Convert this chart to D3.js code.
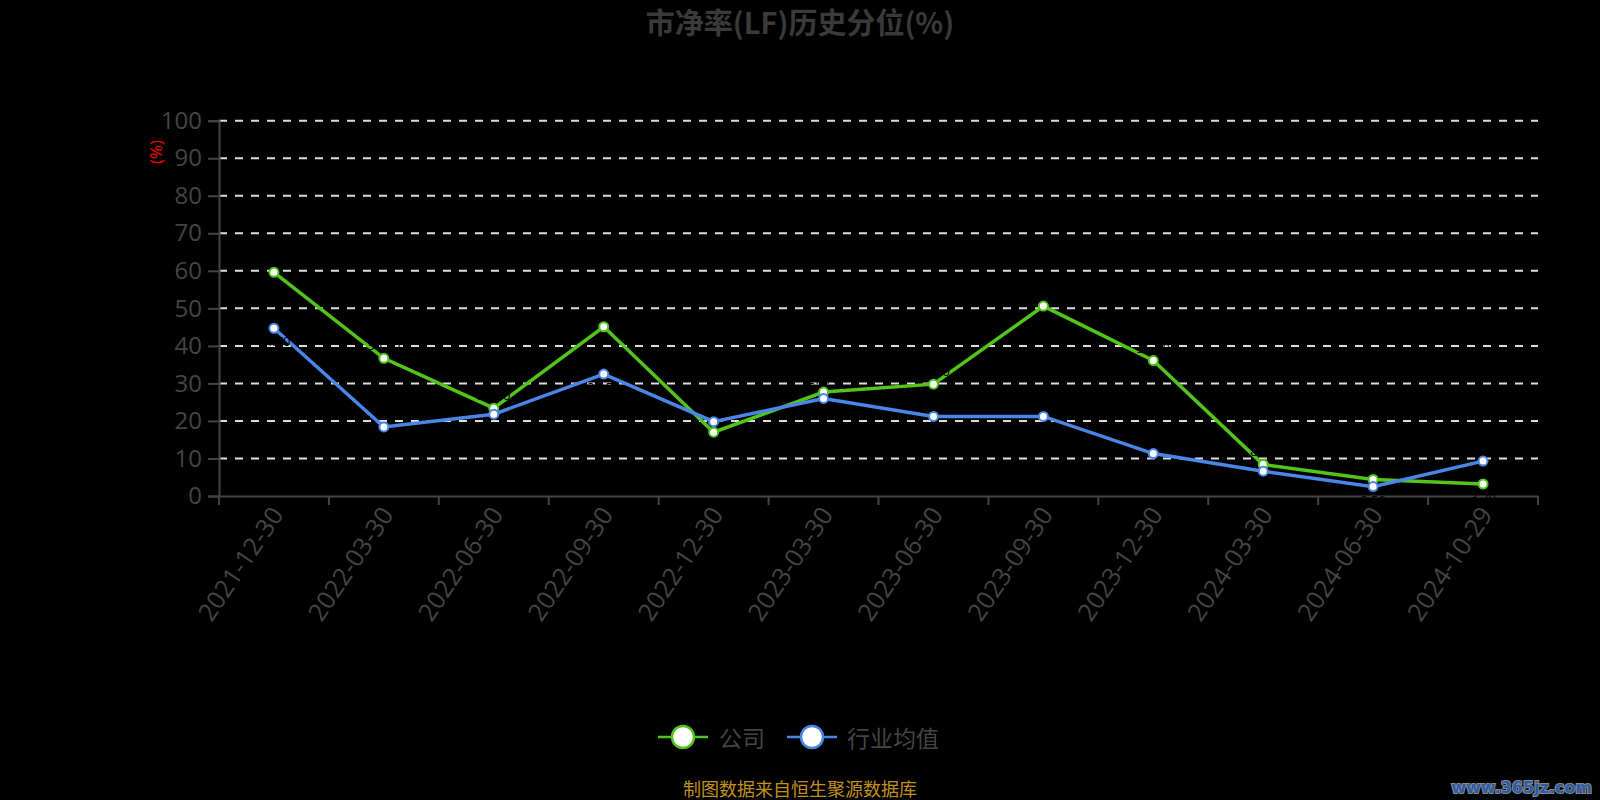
<!DOCTYPE html>
<html>
<head>
<meta charset="utf-8">
<script src="https://cdn.jsdelivr.net/npm/d3@7/dist/d3.min.js"></script>
<style>
  html, body { margin: 0; padding: 0; background: #000; }
  svg { display: block; }
</style>
</head>
<body>
<svg id="chart" width="1600" height="800"></svg>
<script>
const categories = ["2021-12-30","2022-03-30","2022-06-30","2022-09-30","2022-12-30","2023-03-30","2023-06-30","2023-09-30","2023-12-30","2024-03-30","2024-06-30","2024-10-29"];
const companyValues = [59.6, 36.7, 23.4, 45.1, 17.0, 27.7, 29.8, 50.6, 36.1, 8.4, 4.4, 3.2];
const industryValues = [44.7, 18.4, 21.8, 32.5, 19.8, 26.0, 21.2, 21.2, 11.3, 6.6, 2.5, 9.3];
const yTicks = [0, 10, 20, 30, 40, 50, 60, 70, 80, 90, 100];
const seriesNames = ["公司", "行业均值"];

(function () {
const FONT = "'Open Sans', 'Noto Sans CJK SC', sans-serif";
const CJK = "'Noto Sans CJK SC', 'Open Sans', sans-serif";
const colors = ["#52c41a", "#4a86e8"];
const textGray = "#444";

const svg = d3.select("#chart");
const pLeft = 219, pRight = 1538, pTop = 120.7, pBottom = 496;

const x = d3.scaleBand().domain(categories).range([pLeft, pRight]);
const y = d3.scaleLinear().domain([0, 100]).range([pBottom, pTop]);

// title
svg.append("text").attr("x", 800).attr("y", 34).attr("text-anchor", "middle")
  .attr("font-family", CJK).attr("font-weight", "bold").attr("font-size", 29)
  .attr("fill", "#3a3a3a").text("市净率(LF)历史分位(%)");

// grid lines
svg.append("g").selectAll("line").data(yTicks.filter(d => d > 0)).join("line")
  .attr("x1", pLeft).attr("x2", pRight)
  .attr("y1", d => y(d)).attr("y2", d => y(d))
  .attr("stroke", "#dddddd").attr("stroke-width", 2).attr("stroke-dasharray", "8,8");

// y axis
const yAxis = svg.append("g").attr("transform", `translate(${pLeft},0)`)
  .call(d3.axisLeft(y).tickValues(yTicks).tickSize(11).tickPadding(6));
yAxis.select(".domain").attr("stroke", "#444").attr("stroke-width", 2);
yAxis.selectAll(".tick line").attr("stroke", "#444").attr("stroke-width", 2);
yAxis.selectAll(".tick text").attr("fill", textGray).attr("font-size", 24).attr("font-family", FONT);

// y axis unit label
svg.append("text").attr("transform", "translate(157,152) rotate(-90)")
  .attr("text-anchor", "middle").attr("dominant-baseline", "middle")
  .attr("font-family", FONT).attr("font-size", 17).attr("fill", "#ff0000").text("(%)");

// x axis
const xAxis = svg.append("g").attr("transform", `translate(0,${pBottom})`)
  .call(d3.axisBottom(x).tickSize(0).tickFormat(""));
xAxis.select(".domain").attr("stroke", "#444").attr("stroke-width", 2);
const bounds = categories.map(c => x(c)).concat([pRight]);
svg.append("g").selectAll("line").data(bounds).join("line")
  .attr("x1", d => d).attr("x2", d => d).attr("y1", pBottom).attr("y2", pBottom + 9)
  .attr("stroke", "#444").attr("stroke-width", 2);
svg.append("g").selectAll("text").data(categories).join("text")
  .attr("transform", d => `translate(${x(d) + x.bandwidth() / 2 + 5},${pBottom + 15}) rotate(-56)`)
  .attr("text-anchor", "end").attr("dominant-baseline", "middle")
  .attr("font-family", FONT).attr("font-size", 25).attr("fill", textGray).text(d => d);

// series
const cx = d => x(d) + x.bandwidth() / 2;
const allSeries = [companyValues, industryValues];
allSeries.forEach((vals, i) => {
  const pts = categories.map((c, j) => [cx(c), y(vals[j]), vals[j]]);
  svg.append("path").datum(pts)
    .attr("d", d3.line().x(d => d[0]).y(d => d[1]))
    .attr("fill", "none").attr("stroke", colors[i]).attr("stroke-width", 3.5);
});
allSeries.forEach((vals, i) => {
  const other = allSeries[1 - i];
  const pts = categories.map((c, j) => [cx(c), y(vals[j]), vals[j], vals[j] >= other[j]]);
  svg.append("g").selectAll("text").data(pts).join("text")
    .attr("x", d => d[0]).attr("y", d => d[3] ? d[1] - 8 : d[1] + 18).attr("text-anchor", "middle")
    .attr("font-family", FONT).attr("font-size", 13).attr("fill", "#000").text(d => d[2].toFixed(2));
  svg.append("g").selectAll("circle").data(pts).join("circle")
    .attr("cx", d => d[0]).attr("cy", d => d[1]).attr("r", 4.5)
    .attr("fill", "#fff").attr("stroke", colors[i]).attr("stroke-width", 2);
});

// legend
const legendItems = [{ x: 658, tx: 719 }, { x: 787, tx: 847 }];
legendItems.forEach((it, i) => {
  const g = svg.append("g");
  g.append("line").attr("x1", it.x).attr("x2", it.x + 50).attr("y1", 737).attr("y2", 737)
    .attr("stroke", colors[i]).attr("stroke-width", 2.5);
  g.append("circle").attr("cx", it.x + 25).attr("cy", 737).attr("r", 11)
    .attr("fill", "#fff").attr("stroke", colors[i]).attr("stroke-width", 2.5);
  g.append("text").attr("x", it.tx).attr("y", 737).attr("dominant-baseline", "central")
    .attr("font-family", CJK).attr("font-size", 23).attr("fill", textGray).text(seriesNames[i]);
});

// footer
svg.append("text").attr("x", 800).attr("y", 788).attr("text-anchor", "middle")
  .attr("dominant-baseline", "central")
  .attr("font-family", CJK).attr("font-size", 18).attr("fill", "#c0901c").text("制图数据来自恒生聚源数据库");

// watermark
svg.append("text").attr("x", 1592).attr("y", 787).attr("text-anchor", "end")
  .attr("dominant-baseline", "central")
  .attr("font-family", "'DejaVu Sans', sans-serif").attr("font-weight", "bold").attr("font-size", 16)
  .attr("fill", "#2a5ca8").attr("stroke", "#888").attr("stroke-width", 2).attr("paint-order", "stroke")
  .text("www.365jz.com");
})();
</script>
</body>
</html>
